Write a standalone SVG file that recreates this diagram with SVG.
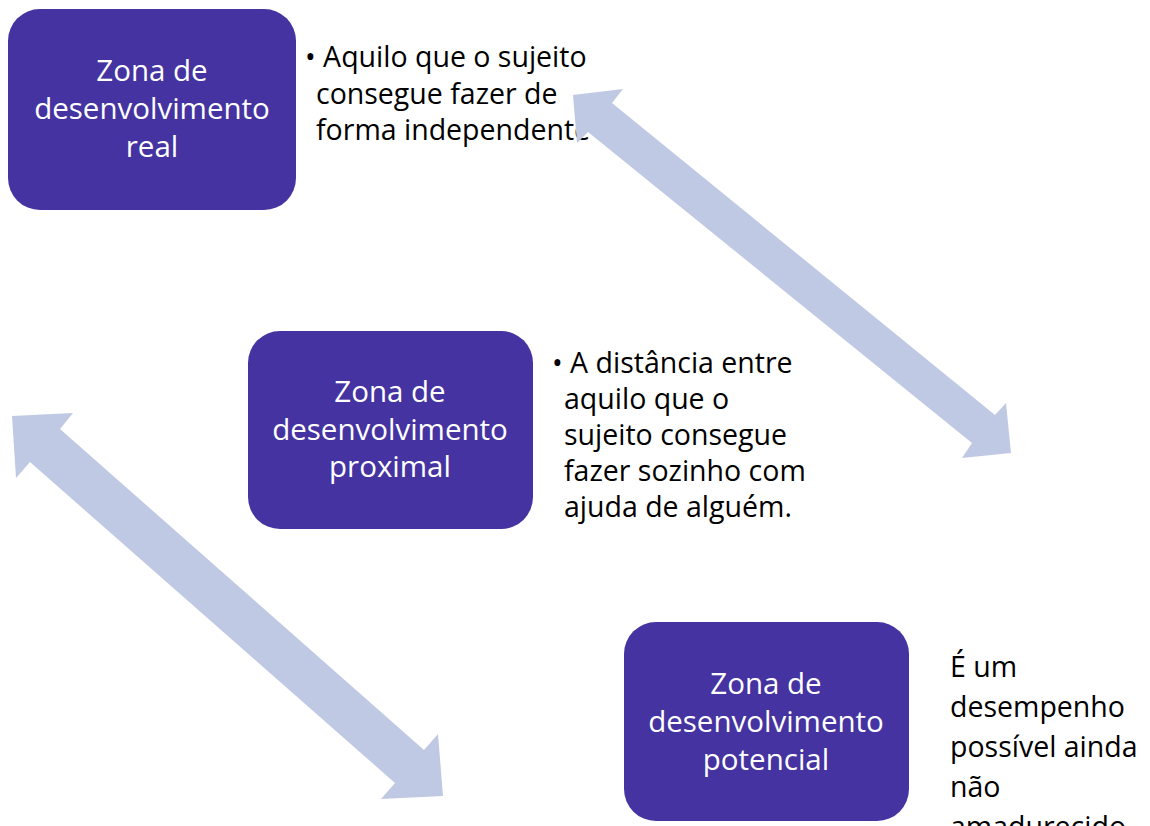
<svg xmlns="http://www.w3.org/2000/svg" width="1150" height="826" viewBox="0 0 1150 826">
<style>
.box{fill:#4433A1;}
.bt{font-family:"Open Sans","Noto Sans",sans-serif;font-size:29.5px;fill:#ffffff;text-anchor:middle;}
.dt{font-family:"Open Sans","Noto Sans",sans-serif;font-size:28.5px;fill:#000000;}
.arr{fill:#BFC9E3;}
</style>
<rect width="1150" height="826" fill="#ffffff"/>
<g id="node-real">
<rect class="box" x="8" y="9" width="288" height="201" rx="32"/>
<text class="bt" x="152" y="81">Zona de</text>
<text class="bt" x="152" y="119">desenvolvimento</text>
<text class="bt" x="152" y="157">real</text>
</g>
<g id="text-real">
<text class="dt" x="305" y="67">• Aquilo que o sujeito</text>
<text class="dt" x="316" y="104">consegue fazer de</text>
<text class="dt" x="316" y="140">forma independente</text>
</g>
<g id="node-proximal">
<rect class="box" x="248" y="331" width="285" height="198" rx="32"/>
<text class="bt" x="390" y="402">Zona de</text>
<text class="bt" x="390" y="440">desenvolvimento</text>
<text class="bt" x="390" y="477">proximal</text>
</g>
<g id="text-proximal">
<text class="dt" x="552" y="373">• A distância entre</text>
<text class="dt" x="564" y="409">aquilo que o</text>
<text class="dt" x="564" y="445">sujeito consegue</text>
<text class="dt" x="564" y="481">fazer sozinho com</text>
<text class="dt" x="564" y="517">ajuda de alguém.</text>
</g>
<g id="node-potencial">
<rect class="box" x="624" y="622" width="285" height="199" rx="32"/>
<text class="bt" x="766" y="694">Zona de</text>
<text class="bt" x="766" y="732">desenvolvimento</text>
<text class="bt" x="766" y="770">potencial</text>
</g>
<g id="text-potencial">
<text class="dt" x="950" y="677">É um</text>
<text class="dt" x="950" y="717">desempenho</text>
<text class="dt" x="950" y="757">possível ainda</text>
<text class="dt" x="950" y="797">não</text>
<text class="dt" x="950" y="837">amadurecido</text>
</g>
<g id="connectors">
<polygon class="arr" points="573,95 623,89 612,103 995,415 1006,403 1011,453 962,458 972,443 588,132 577,143"/>
<polygon class="arr" points="12,416 73,413 60,429 424,750 438,734 443,796 381,799 395,783 30,462 16,478"/>
</g>
</svg>
